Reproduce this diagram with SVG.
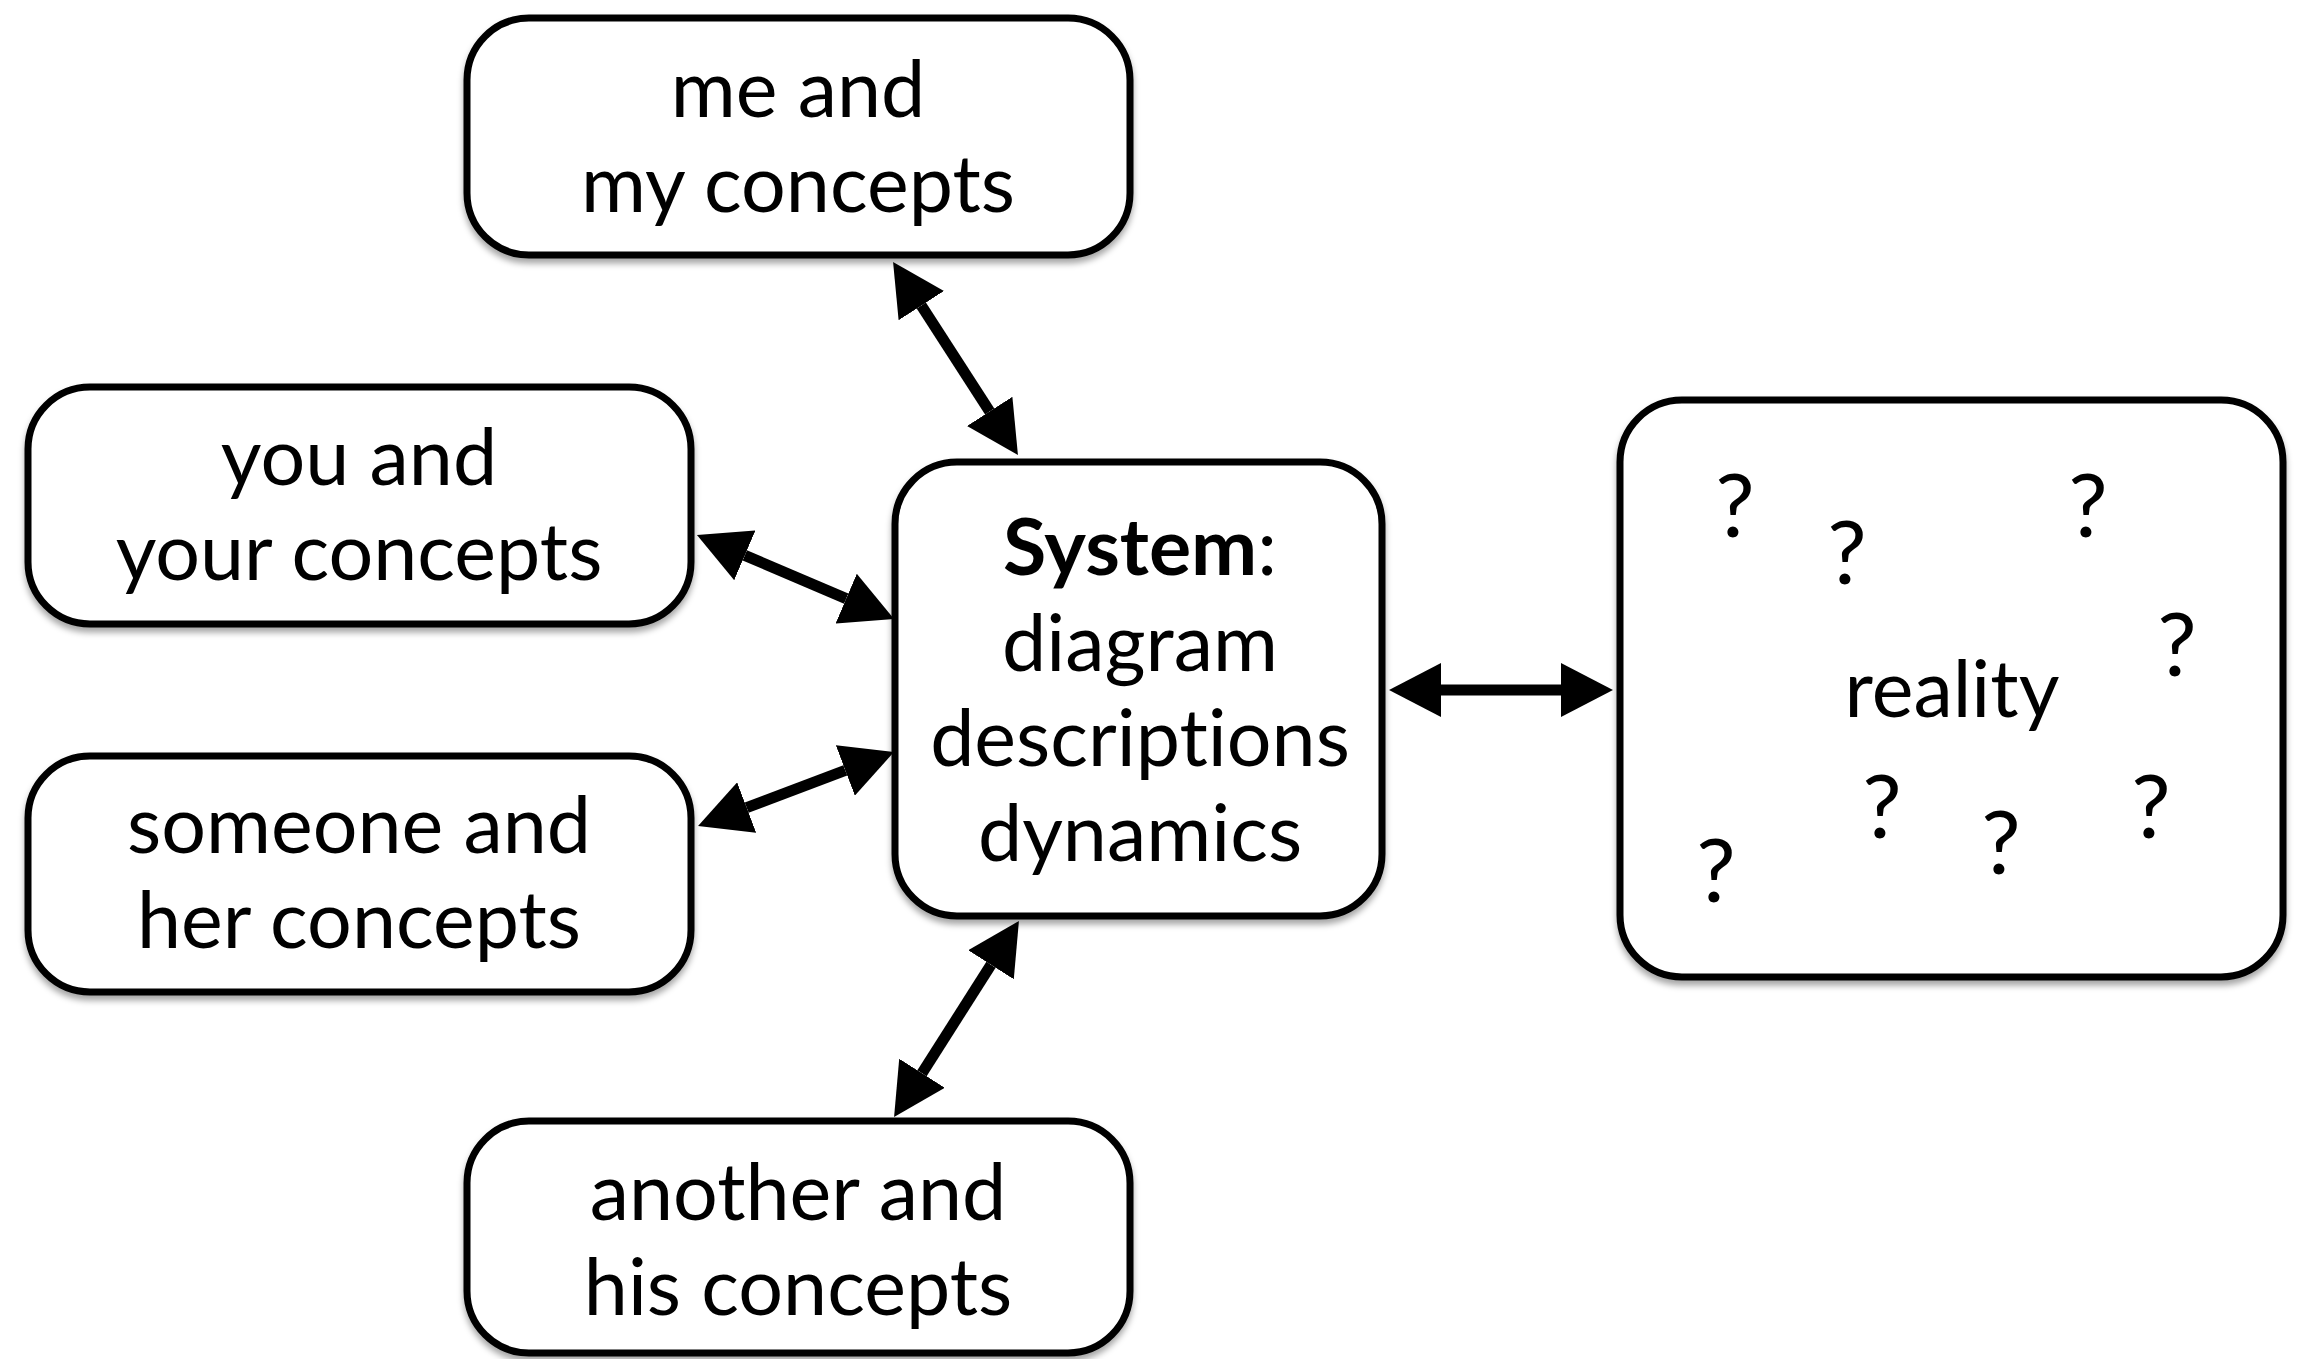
<svg xmlns="http://www.w3.org/2000/svg" width="2301" height="1359" viewBox="0 0 2301 1359">
<defs>
<style>
.box{fill:#fff;stroke:#000;stroke-width:7;filter:url(#sh)}
.t{font-family:Lato,"Open Sans",sans-serif;font-size:79px;fill:#000;text-anchor:middle;font-variant-ligatures:none}
.q{font-family:Lato,sans-serif;font-size:88px;fill:#000;text-anchor:middle}
.c{fill:none;stroke:#000;stroke-width:11;marker-start:url(#ah);marker-end:url(#ah)}
</style>
<filter id="sh" x="-10%" y="-10%" width="120%" height="125%">
<feDropShadow dx="0" dy="5" stdDeviation="3" flood-color="#000" flood-opacity="0.35"/>
</filter>
<marker id="ah" markerUnits="userSpaceOnUse" viewBox="0 0 52 54" markerWidth="52" markerHeight="54" refX="0" refY="27" orient="auto-start-reverse">
<path d="M0,0 L52,27 L0,54 z" fill="#000"/>
</marker>
</defs>
<rect width="2301" height="1359" fill="#fff"/>
<g id="connectors">
<line class="c" x1="921.3" y1="305.6" x2="989.7" y2="411.4"/>
<line class="c" x1="744.8" y1="555.4" x2="846.2" y2="598.6"/>
<line class="c" x1="746.7" y1="807.6" x2="845.3" y2="770.4"/>
<line class="c" x1="922" y1="1073.2" x2="991" y2="964.8"/>
<line class="c" x1="1441" y1="690" x2="1561" y2="690"/>
</g>
<g id="me">
<rect class="box" x="467" y="18" width="663" height="237" rx="62"/>
<text class="t" x="798" y="117">me and</text>
<text class="t" x="798" y="212">my concepts</text>
</g>
<g id="you">
<rect class="box" x="28" y="387" width="663" height="237" rx="62"/>
<text class="t" x="359" y="485">you and</text>
<text class="t" x="359" y="580">your concepts</text>
</g>
<g id="someone">
<rect class="box" x="28" y="756" width="663" height="236" rx="62"/>
<text class="t" x="359" y="853">someone and</text>
<text class="t" x="359" y="948">her concepts</text>
</g>
<g id="another">
<rect class="box" x="467" y="1121" width="663" height="232" rx="62"/>
<text class="t" x="798" y="1220">another and</text>
<text class="t" x="798" y="1315">his concepts</text>
</g>
<g id="system">
<rect class="box" x="895" y="462" width="487" height="454" rx="62"/>
<text class="t" x="1140" y="575"><tspan font-weight="bold">System</tspan>:</text>
<text class="t" x="1140" y="671">diagram</text>
<text class="t" x="1140" y="766">descriptions</text>
<text class="t" x="1140" y="861">dynamics</text>
</g>
<g id="reality">
<rect class="box" x="1620" y="400" width="663" height="577" rx="62"/>
<text class="t" x="1952" y="717">reality</text>
<text class="q" x="1735" y="537">?</text>
<text class="q" x="1847" y="584">?</text>
<text class="q" x="2088" y="537">?</text>
<text class="q" x="2177" y="676">?</text>
<text class="q" x="1882" y="838">?</text>
<text class="q" x="2001" y="874">?</text>
<text class="q" x="2151" y="838">?</text>
<text class="q" x="1716" y="902">?</text>
</g>
</svg>
